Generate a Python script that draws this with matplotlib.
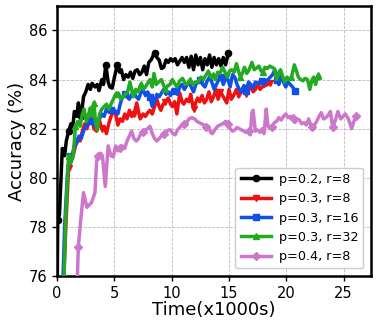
import numpy as np
import matplotlib
matplotlib.use("Agg")
import matplotlib.pyplot as plt

# ---------------- data ----------------
black_t = [0.0, 0.05, 0.2, 0.45, 0.65, 0.8, 1.0, 1.2, 1.35, 1.5, 1.7, 1.85, 2.0, 2.1, 2.3, 2.5, 2.7, 2.9,
           3.05, 3.3, 3.5, 3.65, 3.9, 4.05, 4.25, 4.45, 4.6, 4.8, 5.0, 5.25, 5.45, 5.6, 5.8, 6.0, 6.2, 6.4,
           6.6, 6.8, 7.0, 7.2, 7.4, 7.6, 7.8, 8.0, 8.2, 8.5, 8.7, 8.9, 9.1, 9.3, 9.5, 9.7, 9.9, 10.1, 10.3,
           10.5, 10.7, 10.9, 11.1, 11.3, 11.5, 11.7, 11.9, 12.1, 12.3, 12.5, 12.7, 12.9, 13.1, 13.3, 13.5,
           13.7, 13.9, 14.1, 14.3, 14.5, 14.7, 14.95]
black_acc = [75.0, 78.3, 78.5, 81.2, 80.9, 81.5, 81.9, 82.2, 82.0, 82.7, 82.5, 83.05, 82.7, 82.5, 83.3, 83.5,
             83.8, 83.6, 83.85, 83.7, 83.8, 83.55, 84.0, 83.8, 84.6, 83.9, 83.7, 83.65, 84.1, 84.6, 84.3, 84.4,
             84.0, 84.2, 84.1, 84.3, 84.05, 84.35, 84.4, 84.2, 84.3, 84.55, 84.2, 84.7, 84.8, 85.1, 84.9, 84.8,
             84.45, 84.5, 84.8, 84.7, 84.85, 84.75, 84.85, 84.6, 84.75, 84.9, 84.7, 84.9, 84.5, 84.95, 84.4,
             85.0, 84.6, 84.9, 84.4, 84.85, 84.6, 85.0, 84.5, 84.9, 84.6, 84.85, 84.55, 84.9, 84.6, 85.1]

red_t = [0.5, 0.8, 1.0, 1.2, 1.4, 1.6, 1.8, 2.0, 2.2, 2.4, 2.6, 2.8, 3.0, 3.2, 3.45, 3.65, 3.9, 4.1, 4.3,
         4.5, 4.7, 4.9, 5.1, 5.3, 5.5, 5.7, 5.9, 6.1, 6.3, 6.5, 6.7, 6.95, 7.1, 7.25, 7.5, 7.7, 7.9, 8.1,
         8.3, 8.5, 8.7, 8.9, 9.05, 9.25, 9.45, 9.7, 9.9, 10.05, 10.25, 10.45, 10.7, 10.9, 11.05, 11.3,
         11.5, 11.65, 11.9, 12.05, 12.25, 12.45, 12.65, 12.85, 13.05, 13.25, 13.45, 13.65, 13.85, 14.05,
         14.25, 14.5, 14.8, 15.0, 15.2, 15.4, 15.65, 15.85, 16.05, 16.3, 16.5, 16.7, 16.9, 17.1, 17.3,
         17.5, 17.7, 17.9, 18.15, 18.55]
red_acc = [75.0, 78.5, 80.4, 80.7, 80.9, 81.3, 81.6, 81.5, 81.9, 82.2, 82.0, 82.3, 82.5, 82.0, 81.9, 82.4,
           82.0, 82.1, 81.8, 82.2, 82.5, 82.7, 82.6, 82.15, 82.4, 82.3, 82.6, 82.4, 82.75, 82.5, 82.6, 83.05,
           82.7, 82.4, 82.6, 82.5, 82.65, 82.75, 82.6, 82.9, 83.2, 82.9, 82.75, 83.0, 83.1, 83.25, 83.0,
           82.9, 83.1, 82.6, 83.45, 83.1, 83.0, 83.2, 83.1, 83.4, 82.8, 83.0, 83.25, 83.1, 83.35, 83.05,
           83.2, 83.5, 83.1, 83.3, 83.6, 83.2, 83.5, 83.3, 83.05, 83.6, 83.2, 83.35, 83.6, 83.3, 83.5,
           83.75, 83.4, 83.55, 83.8, 83.5, 83.6, 83.85, 83.6, 83.7, 83.75, 83.85]

blue_t = [0.45, 0.65, 0.9, 1.1, 1.3, 1.5, 1.7, 1.9, 2.1, 2.3, 2.5, 2.7, 2.9, 3.1, 3.3, 3.5, 3.7, 3.9, 4.1,
          4.3, 4.5, 4.7, 4.9, 5.1, 5.3, 5.5, 5.7, 5.9, 6.1, 6.3, 6.5, 6.7, 6.9, 7.1, 7.3, 7.5, 7.7, 7.9,
          8.1, 8.3, 8.5, 8.7, 8.9, 9.1, 9.3, 9.5, 9.7, 9.9, 10.1, 10.3, 10.5, 10.7, 10.9, 11.1, 11.3, 11.5,
          11.7, 11.9, 12.1, 12.3, 12.5, 12.7, 12.9, 13.1, 13.3, 13.5, 13.7, 13.9, 14.1, 14.3, 14.5, 14.7,
          14.9, 15.1, 15.3, 15.5, 15.7, 15.9, 16.1, 16.3, 16.5, 16.7, 16.9, 17.1, 17.3, 17.5, 17.7, 17.9,
          18.1, 18.3, 18.6, 18.8, 19.0, 19.2, 19.35, 19.55, 19.75, 19.95, 20.15, 20.35, 20.55, 20.75]
blue_acc = [75.0, 78.0, 80.2, 80.9, 80.9, 81.3, 81.4, 81.7, 81.6, 81.9, 82.1, 82.2, 82.3, 82.25, 82.1, 82.2,
            82.4, 82.6, 82.5, 82.8, 82.7, 82.75, 82.8, 82.7, 82.6, 83.0, 83.3, 83.4, 83.3, 83.2, 83.4, 83.5,
            83.3, 83.2, 83.45, 83.6, 83.35, 83.5, 83.3, 82.9, 83.1, 83.4, 83.3, 83.45, 83.6, 83.4, 83.5,
            83.35, 83.6, 83.55, 83.4, 83.7, 83.8, 83.6, 83.75, 83.9, 83.7, 83.5, 83.8, 83.9, 84.0, 83.8,
            83.7, 83.95, 84.1, 83.9, 83.6, 83.8, 84.0, 84.1, 83.8, 84.05, 84.0, 83.7, 84.2, 84.1, 83.8,
            83.6, 83.5, 83.75, 83.55, 83.9, 83.8, 83.65, 83.9, 83.85, 83.9, 83.95, 83.85, 83.95, 84.1,
            84.2, 84.4, 84.0, 83.8, 84.2, 83.9, 83.7, 83.9, 83.8, 83.7, 83.55]

green_t = [0.55, 0.75, 1.0, 1.2, 1.4, 1.6, 1.8, 2.0, 2.2, 2.35, 2.55, 2.75, 2.9, 3.05, 3.2, 3.35, 3.5, 3.7,
           3.9, 4.1, 4.3, 4.5, 4.7, 4.9, 5.1, 5.35, 5.55, 5.75, 5.95, 6.15, 6.35, 6.5, 6.65, 6.85, 7.05,
           7.3, 7.5, 7.7, 7.9, 8.1, 8.3, 8.45, 8.65, 8.85, 9.1, 9.3, 9.45, 9.65, 9.85, 10.05, 10.25, 10.45,
           10.7, 10.95, 11.15, 11.35, 11.6, 11.85, 12.05, 12.3, 12.55, 12.75, 12.95, 13.2, 13.4, 13.6,
           13.8, 14.0, 14.2, 14.45, 14.65, 14.85, 15.05, 15.25, 15.45, 15.65, 15.85, 16.0, 16.2, 16.35,
           16.55, 16.75, 17.0, 17.2, 17.35, 17.6, 17.8, 17.95, 18.15, 18.35, 18.55, 18.75, 18.95, 19.15,
           19.35, 19.5, 19.7, 19.85, 20.05, 20.25, 20.45, 20.7, 20.85, 21.05, 21.25, 21.45, 21.65, 21.85,
           22.05, 22.25, 22.4, 22.55, 22.8, 22.95]
green_acc = [75.0, 78.5, 80.9, 80.6, 80.9, 82.1, 82.3, 82.1, 82.6, 82.8, 82.3, 82.6, 82.85, 82.5, 83.05,
             82.3, 81.95, 82.6, 82.8, 82.9, 83.0, 82.8, 83.0, 83.2, 83.4, 83.45, 83.2, 83.3, 83.4, 83.5,
             83.9, 83.6, 83.3, 83.6, 83.5, 83.8, 83.6, 83.7, 83.85, 84.0, 83.7, 84.25, 83.8, 83.9, 84.0,
             83.75, 83.6, 83.75, 83.8, 84.0, 83.85, 83.7, 83.95, 84.05, 83.85, 83.8, 84.0, 83.8, 83.9, 83.9,
             84.1, 84.0, 84.15, 84.35, 84.1, 84.2, 84.0, 84.3, 84.25, 84.5, 84.3, 84.1, 84.35, 84.4, 84.3,
             84.65, 84.3, 84.1, 84.3, 84.5, 84.25, 84.4, 84.7, 84.4, 84.45, 84.55, 84.35, 84.3, 84.5, 84.45,
             84.55, 84.5, 84.45, 84.0, 84.3, 84.4, 84.1, 83.9, 84.1, 84.0, 84.1, 84.6, 84.4, 84.1, 84.0,
             83.95, 84.05, 84.0, 83.6, 84.0, 84.1, 83.8, 84.2, 84.05]

pink_t = [1.7, 1.85, 2.1, 2.3, 2.6, 2.8, 3.0, 3.3, 3.45, 3.6, 3.8, 3.95, 4.2, 4.45, 4.7, 4.9, 5.1, 5.3, 5.5,
          5.7, 5.9, 6.1, 6.3, 6.5, 6.7, 6.9, 7.1, 7.3, 7.5, 7.7, 7.9, 8.1, 8.3, 8.5, 8.7, 8.9, 9.1, 9.3,
          9.5, 9.7, 9.9, 10.1, 10.3, 10.5, 10.7, 10.9, 11.1, 11.3, 11.5, 11.75, 12.0, 12.2, 12.4, 12.6,
          12.8, 13.0, 13.2, 13.4, 13.55, 13.75, 14.0, 14.2, 14.45, 14.7, 14.9, 15.1, 15.3, 15.5, 15.7,
          15.9, 16.1, 16.3, 16.5, 16.7, 16.85, 17.0, 17.1, 17.3, 17.5, 17.7, 17.9, 18.05, 18.25, 18.4,
          18.6, 18.75, 18.95, 19.15, 19.35, 19.55, 19.75, 19.95, 20.15, 20.35, 20.55, 20.75, 20.95, 21.15,
          21.35, 21.55, 21.75, 21.95, 22.2, 22.45, 22.65, 22.85, 23.05, 23.25, 23.45, 23.65, 23.85, 24.05,
          24.25, 24.5, 24.75, 24.95, 25.15, 25.35, 25.5, 25.7, 25.9, 26.1, 26.25]
pink_acc = [75.0, 77.2, 78.5, 79.4, 78.8, 78.9, 79.0, 79.4, 80.7, 80.9, 81.0, 80.9, 79.65, 81.3, 80.9,
            80.85, 81.3, 81.1, 81.2, 81.3, 81.2, 81.5, 81.7, 81.9, 81.6, 81.5, 81.6, 81.8, 81.85, 81.95,
            82.0, 82.1, 81.8, 81.6, 81.5, 81.6, 81.7, 81.8, 81.85, 81.95, 81.95, 81.8, 81.75, 81.95, 82.05,
            82.15, 82.2, 82.25, 82.4, 82.45, 82.4, 82.3, 82.25, 82.2, 82.15, 82.05, 82.1, 81.85, 81.8, 81.95,
            82.1, 82.15, 82.2, 82.3, 82.2, 82.0, 81.9, 81.95, 82.05, 82.0, 81.95, 81.9, 81.85, 81.9, 81.75,
            82.65, 82.75, 81.9, 81.95, 81.85, 82.0, 81.8, 82.8, 82.1, 82.0, 82.05, 82.25, 82.3, 82.45,
            82.35, 82.5, 82.6, 82.45, 82.5, 82.45, 82.25, 82.4, 82.35, 82.2, 82.25, 82.15, 82.4, 82.05,
            82.15, 82.3, 82.5, 82.65, 82.4, 82.45, 82.55, 82.7, 82.05, 82.3, 82.7, 82.4, 82.5, 82.6, 82.45,
            82.3, 82.0, 82.3, 82.5, 82.5]

labels = ["p=0.2, r=8", "p=0.3, r=8", "p=0.3, r=16", "p=0.3, r=32", "p=0.4, r=8"]

# ---------------- style ----------------
series = [
    (black_t, black_acc, "#000000", "o", [0.05, 1.0, 2.1, 4.25, 5.25, 8.5, 14.95]),
    (red_t, red_acc, "#ee1111", "v", [1.0, 3.9, 6.7, 9.45, 11.9, 14.25, 16.5, 18.55]),
    (blue_t, blue_acc, "#1150e6", "s", [1.1, 2.9, 4.7, 5.9, 8.1, 10.3, 12.5, 14.3, 16.5, 17.9, 19.2, 20.75]),
    (green_t, green_acc, "#22aa22", "^", [1.0, 1.6, 3.2, 5.1, 7.3, 9.45, 11.6, 13.6, 16.0, 17.95, 20.45, 22.8]),
    (pink_t, pink_acc, "#cc77cc", "D", [1.85, 3.6, 5.5, 7.5, 9.3, 11.1, 13.0, 14.9, 16.7, 18.75, 20.55,
                                        22.2, 24.05, 26.1]),
]

fig = plt.figure(figsize=(3.76, 3.26), dpi=100)
ax = fig.add_axes([0.152, 0.153, 0.835, 0.829])

for (t, acc, color, marker, mtimes), lab in zip(series, labels):
    t_arr = np.asarray(t)
    idx = sorted(set(int(np.argmin(np.abs(t_arr - m))) for m in mtimes))
    ax.plot(t, acc, color=color, lw=2.5, marker=marker, markersize=4.5,
            markevery=idx, label=lab, zorder=3)

ax.set_xlim(0, 27.4)
ax.set_ylim(76, 87)
ax.set_xticks([0, 5, 10, 15, 20, 25])
ax.set_yticks([76, 78, 80, 82, 84, 86])
ax.tick_params(axis="both", labelsize=10.5, width=1.0, length=3.5)
ax.grid(True, color="#bbbbbb", linestyle="--", linewidth=0.6)
for s in ax.spines.values():
    s.set_linewidth(1.8)
ax.set_xlabel("Time(x1000s)", fontsize=13, labelpad=0)
ax.set_ylabel("Accuracy (%)", fontsize=13, labelpad=2)
ax.legend(loc="lower right", fontsize=9.2, handlelength=2.4, handletextpad=0.6,
          labelspacing=0.5, borderaxespad=0.6, framealpha=1.0)

fig.savefig("out.png", dpi=100)
